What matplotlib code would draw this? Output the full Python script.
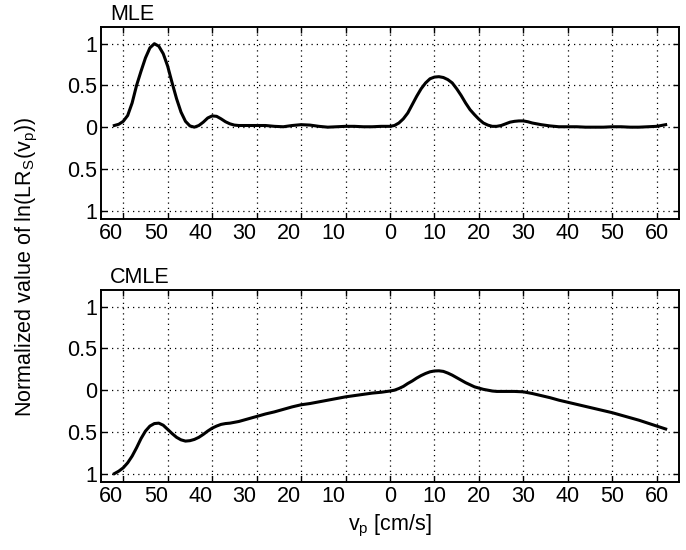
import numpy as np
import matplotlib
matplotlib.use("Agg")
import matplotlib.pyplot as plt

plt.rcParams['font.family'] = ['Liberation Sans', 'DejaVu Sans']
plt.rcParams['mathtext.fontset'] = 'custom'
plt.rcParams['mathtext.rm'] = 'Liberation Sans'
plt.rcParams['mathtext.it'] = 'Liberation Sans'

# Velocity axis (cm/s): ticks and their labels (magnitudes only)
x_ticks = [-60, -50, -40, -30, -20, -10, 0, 10, 20, 30, 40, 50, 60]
x_tick_labels = ['60', '50', '40', '30', '20', '10', '0', '10', '20', '30', '40', '50', '60']
y_ticks = [-1, -0.5, 0, 0.5, 1]
y_tick_labels = ['1', '0.5', '0', '0.5', '1']

# MLE: normalized log-likelihood ratio
mle_v = [-62, -61, -60, -59, -58, -57, -56, -55, -54, -53, -52, -51, -50, -49,
         -48, -47, -46, -45, -44, -43, -42, -41, -40, -39, -38, -37, -36, -35,
         -34, -32, -30, -28, -26, -24, -22, -20, -18, -16, -14, -12, -10, -8,
         -6, -4, -2, 0, 1, 2, 3, 4, 5, 6, 7, 8, 9, 10, 11, 12, 13, 14, 15, 16,
         17, 18, 19, 20, 21, 22, 23, 24, 25, 26, 27, 28, 29, 30, 31, 32, 33,
         34, 36, 38, 40, 42, 44, 46, 48, 50, 52, 54, 56, 58, 60, 61, 62]
mle_l = [0.02, 0.035, 0.07, 0.14, 0.29, 0.50, 0.67, 0.83, 0.95, 1.0, 0.97,
         0.88, 0.73, 0.53, 0.34, 0.18, 0.07, 0.015, 0.0, 0.02, 0.06, 0.11,
         0.135, 0.13, 0.10, 0.065, 0.04, 0.025, 0.02, 0.02, 0.02, 0.02, 0.01,
         0.005, 0.02, 0.03, 0.025, 0.01, 0.0, 0.005, 0.01, 0.01, 0.005, 0.005,
         0.01, 0.01, 0.02, 0.05, 0.10, 0.17, 0.27, 0.37, 0.46, 0.53, 0.58,
         0.60, 0.605, 0.595, 0.57, 0.53, 0.46, 0.38, 0.29, 0.21, 0.15, 0.095,
         0.05, 0.025, 0.01, 0.01, 0.02, 0.04, 0.06, 0.07, 0.075, 0.075, 0.065,
         0.05, 0.04, 0.03, 0.015, 0.005, 0.005, 0.005, 0.0, 0.0, 0.0, 0.005,
         0.005, 0.0, 0.0, 0.005, 0.01, 0.02, 0.03]

# CMLE: normalized log-likelihood ratio
cmle_v = [-62, -61, -60, -59, -58, -57, -56, -55, -54, -53, -52, -51, -50, -49,
          -48, -47, -46, -45, -44, -43, -42, -41, -40, -39, -38, -37, -36, -35,
          -34, -32, -30, -28, -26, -24, -22, -20, -18, -16, -14, -12, -10, -8,
          -6, -4, -2, 0, 1, 2, 3, 4, 5, 6, 7, 8, 9, 10, 11, 12, 13, 14, 15, 16,
          17, 18, 19, 20, 21, 22, 23, 24, 26, 28, 30, 32, 34, 36, 38, 40, 42,
          44, 46, 48, 50, 52, 54, 56, 58, 60, 62]
cmle_l = [-1.0, -0.97, -0.93, -0.87, -0.79, -0.69, -0.58, -0.49, -0.43, -0.40,
          -0.395, -0.42, -0.47, -0.52, -0.565, -0.595, -0.61, -0.605, -0.59,
          -0.565, -0.53, -0.49, -0.455, -0.43, -0.41, -0.40, -0.395, -0.385,
          -0.375, -0.345, -0.315, -0.285, -0.26, -0.23, -0.20, -0.175, -0.16,
          -0.14, -0.12, -0.10, -0.08, -0.065, -0.05, -0.035, -0.025, -0.01,
          0.0, 0.02, 0.045, 0.08, 0.11, 0.145, 0.175, 0.20, 0.22, 0.23, 0.232,
          0.225, 0.205, 0.18, 0.15, 0.12, 0.09, 0.065, 0.04, 0.025, 0.01, 0.0,
          -0.01, -0.015, -0.015, -0.015, -0.02, -0.04, -0.065, -0.09, -0.12,
          -0.145, -0.17, -0.195, -0.22, -0.245, -0.27, -0.30, -0.33, -0.36,
          -0.395, -0.43, -0.465]

panels = [("MLE", mle_v, mle_l), ("CMLE", cmle_v, cmle_l)]

FS = 15.5

fig = plt.figure(figsize=(6.86, 5.50), dpi=100)
ax_w = 578 / 686
ax_h = 192 / 550
ax_left = 101 / 686
bottoms = [1 - 219 / 550, 1 - 482 / 550]

for (name, v, l), b in zip(panels, bottoms):
    ax = fig.add_axes([ax_left, b, ax_w, ax_h])
    ax.plot(v, l, color='black', lw=2.2, solid_joinstyle='round')
    ax.set_xlim(-65, 65)
    ax.set_ylim(-1.1, 1.2)
    ax.set_xticks(x_ticks)
    ax.set_xticklabels(x_tick_labels)
    # negative velocities: magnitude label sits just left of its tick
    for t, lab in zip(x_ticks, ax.get_xticklabels()):
        if t < 0:
            lab.set_horizontalalignment('right')
    ax.set_yticks(y_ticks)
    ax.set_yticklabels(y_tick_labels)
    ax.grid(True, color='black', linestyle=(0, (1, 3.2)), linewidth=0.9)
    ax.tick_params(direction='in', length=4, width=1.0, top=True, right=True,
                   labelsize=FS, pad=3, colors='black')
    for s in ax.spines.values():
        s.set_linewidth(1.4)
    ax.text(9 / 578, 1 + 7 / 192, name, transform=ax.transAxes,
            fontsize=FS, ha='left', va='baseline')
    if name == "CMLE":
        ax.set_xlabel(r'v$_\mathregular{p}$ [cm/s]', fontsize=FS, labelpad=4)

fig.text(27 / 686, 1 - 267 / 550,
         r'Normalized value of ln(LR$_\mathregular{S}$(v$_\mathregular{p}$))',
         rotation=90, ha='center', va='center', fontsize=FS)

fig.savefig('out.png', dpi=100)
